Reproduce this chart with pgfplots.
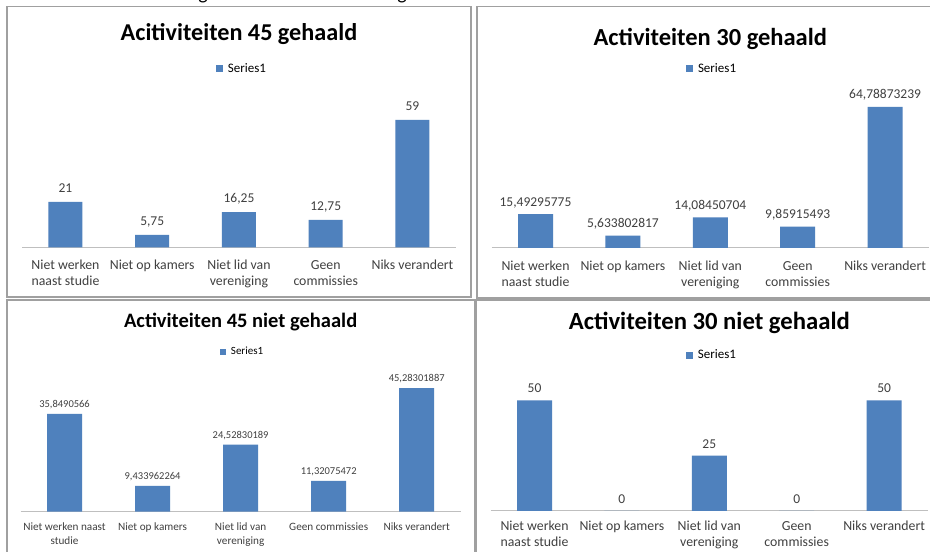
\documentclass[border=0pt]{standalone}
\usepackage{fontspec}
\setmainfont{Carlito}
\usepackage{pgfplots}
\usepackage{pgfplotstable}
\pgfplotsset{compat=1.18}
\definecolor{barblue}{HTML}{4F81BD}
\definecolor{lbl}{HTML}{404040}
\definecolor{framegray}{HTML}{A0A0A0}
\definecolor{axisgray}{HTML}{BFBFBF}
\newcommand{\fs}[2]{\fontsize{#1}{#2}\selectfont}

% data: x position, value, printed label
\pgfplotstableread{
x y lab
0 21 21
1 5.75 5,75
2 16.25 16,25
3 12.75 12,75
4 59 59
}\tabA
\pgfplotstableread{
x y lab
0 15.49295775 15,49295775
1 5.633802817 5,633802817
2 14.08450704 14,08450704
3 9.85915493 9,85915493
4 64.78873239 64,78873239
}\tabB
\pgfplotstableread{
x y lab
0 35.8490566 35,8490566
1 9.433962264 9,433962264
2 24.52830189 24,52830189
3 11.32075472 11,32075472
4 45.28301887 45,28301887
}\tabC
\pgfplotstableread{
x y lab
0 50 50
1 0 0
2 25 25
3 0 0
4 50 50
}\tabD

\pgfplotsset{
  panel/.style={
    scale only axis, anchor=south west,
    xmin=-0.5, xmax=4.5, ymin=0, enlargelimits=false,
    ybar, bar width=35pt,
    axis x line=bottom, axis y line=none,
    x axis line style={draw=axisgray, line width=1pt, -},
    xtick={0,1,2,3,4}, major tick length=0pt, ytick=\empty,
    nodes near coords, point meta=explicit symbolic,
    title style={anchor=center, text=black},
    legend style={draw=none, fill=none, anchor=center, inner sep=0pt,
      /tikz/every odd column/.append style={column sep=3pt}},
    legend image code/.code={\fill[barblue] (0pt,-3.5pt) rectangle (7pt,3.5pt);},
    xticklabel style={anchor=north, inner sep=0pt, align=center, text=lbl},
  },
}

\begin{document}
\begin{tikzpicture}[x=1pt,y=1pt]
\useasboundingbox (0,0) rectangle (930,552);
\fill[white] (0,0) rectangle (930,552);
% descenders of a cut-off line above the panels
\node[anchor=base, inner sep=0pt, font=\fs{20}{24}] at (203,552.4) {g};
\node[anchor=base, inner sep=0pt, font=\fs{20}{24}] at (402,552.4) {g};
% panel frames (y measured from the bottom)
\draw[framegray, line width=1.2pt] (7,545.5) rectangle (471,255);
\draw[framegray, line width=1.2pt] (477,545.5) rectangle (940,254);
\draw[framegray, line width=1.2pt] (7,252) rectangle (475,-10);
\draw[framegray, line width=1.2pt] (476,252) rectangle (940,-10);

% ---------------- top left
\begin{axis}[panel, at={(22.1pt,304.7pt)}, width=433.75pt, height=200pt, ymax=92.59,
  bar width=34pt,
  title={Acitiviteiten 45 gehaald},
  title style={at={(0.5,1.036)}, font=\fs{24.2}{28}\bfseries},
  legend style={at={(0.507,0.8915)}, font=\fs{13}{15}},
  every node near coord/.append style={anchor=base, inner sep=0pt, yshift=9.4pt, font=\fs{13.5}{16}, text=lbl},
  xticklabel style={yshift=-12.7pt, font=\fs{13.8}{16}},
  xticklabels={Niet werken\\naast studie, Niet op kamers, Niet lid van\\vereniging, Geen\\commissies, Niks verandert},
]
\addplot[fill=barblue, draw=none] table[x=x, y=y, meta=lab] {\tabA};
\addlegendentry{Series1}
\end{axis}

% ---------------- top right
\begin{axis}[panel, at={(491.8pt,304pt)}, width=437pt, height=200pt, ymax=91.74,
  title={Activiteiten 30 gehaald},
  title style={at={(0.5,1.015)}, font=\fs{24.5}{28}\bfseries},
  legend style={at={(0.504,0.895)}, font=\fs{13}{15}},
  every node near coord/.append style={anchor=base, inner sep=0pt, yshift=8pt, font=\fs{13.5}{16}, text=lbl},
  xticklabel style={yshift=-13pt, font=\fs{13.8}{16}},
  xticklabels={Niet werken\\naast studie, Niet op kamers, Niet lid van\\vereniging, Geen\\commissies, Niks verandert},
]
\addplot[fill=barblue, draw=none] table[x=x, y=y, meta=lab] {\tabB};
\addlegendentry{Series1}
\end{axis}

% ---------------- bottom left
\begin{axis}[panel, at={(20.5pt,40.3pt)}, width=440.25pt, height=150pt, ymax=54.95,
  title={Activiteiten 45 niet gehaald},
  title style={at={(0.5,1.224)}, font=\fs{20.5}{24}\bfseries},
  legend style={at={(0.505,1.065)}, font=\fs{11}{13},
    /tikz/every odd column/.append style={column sep=2.5pt}},
  legend image code/.code={\fill[barblue] (0pt,-3pt) rectangle (6pt,3pt);},
  every node near coord/.append style={anchor=base, inner sep=0pt, yshift=6.3pt, font=\fs{10.5}{12}, text=lbl},
  xticklabel style={yshift=-11.2pt, font=\fs{11.2}{14}},
  xticklabels={Niet werken naast\\studie, Niet op kamers, Niet lid van\\vereniging, Geen commissies, Niks verandert},
]
\addplot[fill=barblue, draw=none] table[x=x, y=y, meta=lab] {\tabC};
\addlegendentry{Series1}
\end{axis}

% ---------------- bottom right
\begin{axis}[panel, at={(490.8pt,41pt)}, width=437pt, height=150pt, ymax=67.87,
  title={Activiteiten 30 niet gehaald},
  title style={at={(0.5,1.213)}, font=\fs{24.7}{28}\bfseries},
  legend style={at={(0.506,1.04)}, font=\fs{13}{15}},
  every node near coord/.append style={anchor=base, inner sep=0pt, yshift=7.7pt, font=\fs{13.5}{16}, text=lbl},
  xticklabel style={yshift=-10pt, font=\fs{13.8}{16}},
  xticklabels={Niet werken\\naast studie, Niet op kamers, Niet lid van\\vereniging, Geen\\commissies, Niks verandert},
]
\addplot[fill=barblue, draw=none] table[x=x, y=y, meta=lab] {\tabD};
\addlegendentry{Series1}
\end{axis}
\end{tikzpicture}
\end{document}
